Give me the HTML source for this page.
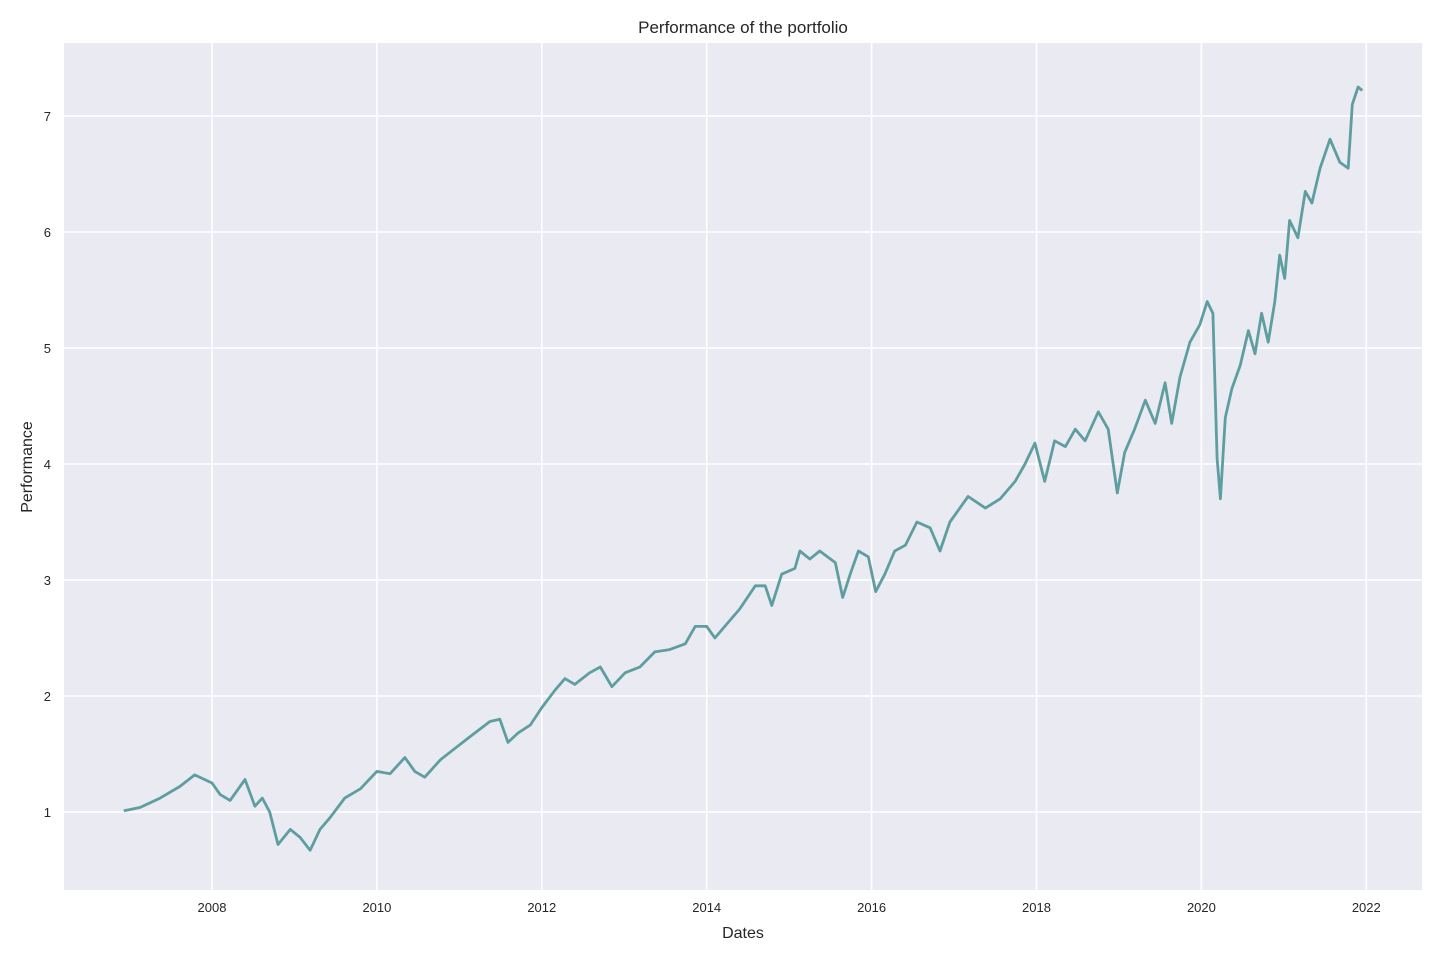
<!DOCTYPE html>
<html><head><meta charset="utf-8"><style>
html,body{margin:0;padding:0;background:#fff;}
svg text{font-family:"Liberation Sans","DejaVu Sans",sans-serif;fill:#262626;}
</style></head><body>
<svg id="chart" width="1440" height="960" xmlns="http://www.w3.org/2000/svg">
<rect x="64" y="43" width="1358" height="847" fill="#eaeaf2"/>
<g id="grid"></g><g id="ticks"></g>
<path id="line" fill="none" stroke="#5f9ea0" stroke-width="2.8" stroke-linejoin="round"/>
<text x="743" y="33" font-size="17" text-anchor="middle">Performance of the portfolio</text>
<text x="743" y="938" font-size="16" text-anchor="middle">Dates</text>
<text x="32" y="467" font-size="16" text-anchor="middle" transform="rotate(-90 32 467)">Performance</text>
</svg>
<script>
const dates=[2006.93,2007.13,2007.37,2007.61,2007.79,2008.00,2008.10,2008.22,2008.40,2008.52,2008.61,2008.70,2008.80,2008.95,2009.07,2009.19,2009.31,2009.43,2009.61,2009.80,2010.00,2010.16,2010.34,2010.46,2010.58,2010.77,2010.95,2011.13,2011.37,2011.49,2011.59,2011.71,2011.86,2012.00,2012.16,2012.28,2012.40,2012.58,2012.71,2012.85,2013.01,2013.19,2013.37,2013.55,2013.74,2013.86,2014.00,2014.10,2014.22,2014.40,2014.59,2014.71,2014.79,2014.91,2015.07,2015.13,2015.25,2015.37,2015.56,2015.65,2015.74,2015.84,2015.96,2016.05,2016.16,2016.28,2016.41,2016.55,2016.71,2016.83,2016.95,2017.17,2017.38,2017.56,2017.74,2017.86,2017.98,2018.10,2018.22,2018.35,2018.47,2018.59,2018.75,2018.87,2018.98,2019.07,2019.19,2019.32,2019.44,2019.56,2019.64,2019.74,2019.86,2019.98,2020.07,2020.14,2020.19,2020.23,2020.29,2020.37,2020.47,2020.57,2020.65,2020.73,2020.81,2020.89,2020.95,2021.01,2021.07,2021.17,2021.26,2021.34,2021.44,2021.56,2021.68,2021.78,2021.83,2021.90,2021.95];
const values=[1.01,1.04,1.12,1.22,1.32,1.25,1.15,1.10,1.28,1.05,1.12,1.00,0.72,0.85,0.78,0.67,0.85,0.95,1.12,1.20,1.35,1.33,1.47,1.35,1.30,1.45,1.55,1.65,1.78,1.80,1.60,1.68,1.75,1.90,2.05,2.15,2.10,2.20,2.25,2.08,2.20,2.25,2.38,2.40,2.45,2.60,2.60,2.50,2.60,2.75,2.95,2.95,2.78,3.05,3.10,3.25,3.18,3.25,3.15,2.85,3.05,3.25,3.20,2.90,3.05,3.25,3.30,3.50,3.45,3.25,3.50,3.72,3.62,3.70,3.85,4.00,4.18,3.85,4.20,4.15,4.30,4.20,4.45,4.30,3.75,4.10,4.30,4.55,4.35,4.70,4.35,4.75,5.05,5.20,5.40,5.30,4.05,3.70,4.40,4.65,4.85,5.15,4.95,5.30,5.05,5.40,5.80,5.60,6.10,5.95,6.35,6.25,6.55,6.80,6.60,6.55,7.10,7.25,7.22];
const xTicks=[2008,2010,2012,2014,2016,2018,2020,2022];
const yTicks=[1,2,3,4,5,6,7];
const X=y=>212+(y-2008)*82.45;
const Y=v=>812-(v-1)*116;
const NS="http://www.w3.org/2000/svg";
const grid=document.getElementById('grid'),ticks=document.getElementById('ticks');
xTicks.forEach(t=>{
 const l=document.createElementNS(NS,'line');
 l.setAttribute('x1',X(t));l.setAttribute('x2',X(t));l.setAttribute('y1',43);l.setAttribute('y2',890);
 l.setAttribute('stroke','#fff');l.setAttribute('stroke-width','1.6');
 
 
 grid.appendChild(l);
 const tx=document.createElementNS(NS,'text');
 tx.setAttribute('x',X(t));tx.setAttribute('y',912);tx.setAttribute('font-size','13');tx.setAttribute('text-anchor','middle');
 tx.textContent=t;
 
 
 ticks.appendChild(tx);
});
yTicks.forEach(t=>{
 const l=document.createElementNS(NS,'line');
 l.setAttribute('x1',64);l.setAttribute('x2',1422);l.setAttribute('y1',Y(t));l.setAttribute('y2',Y(t));
 l.setAttribute('stroke','#fff');l.setAttribute('stroke-width','1.6');
 
 
 grid.appendChild(l);
 const tx=document.createElementNS(NS,'text');
 tx.setAttribute('x',51);tx.setAttribute('y',Y(t)+5);tx.setAttribute('font-size','13');tx.setAttribute('text-anchor','end');
 tx.textContent=t;
 
 
 ticks.appendChild(tx);
});
document.getElementById('line').setAttribute('d',dates.map((d,i)=>(i?'L':'M')+X(d).toFixed(1)+','+Y(values[i]).toFixed(1)).join(''));
</script>
</body></html>
